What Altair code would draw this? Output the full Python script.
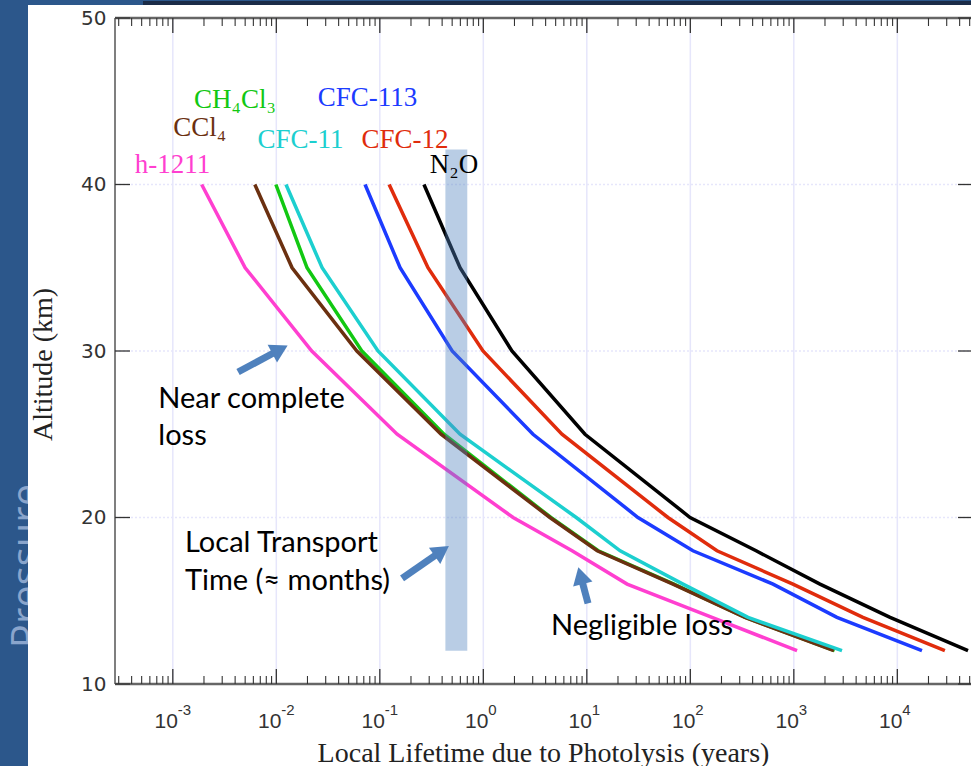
import altair as alt
import pandas as pd

# ---------------- data ----------------
altitude_km = [40, 35, 30, 25, 20, 18, 16, 14, 12]

# local photolysis lifetime (years) at each altitude
life_h1211 = [0.0019, 0.0050, 0.022, 0.147, 1.94, 7.2, 24.5, 162, 1075]
life_ch4cl3 = [0.0099, 0.0198, 0.067, 0.417, 4.5, 12.9, 69.5, 340, 2480]
life_ccl4 = [0.0062, 0.0142, 0.060, 0.39, 4.4, 12.6, 68, 337, 2440]
life_cfc11 = [0.0124, 0.0277, 0.096, 0.596, 7.9, 21, 85, 361, 2920]
life_cfc113 = [0.072, 0.157, 0.50, 3.02, 31.2, 106, 630, 2610, 17300]
life_cfc12 = [0.123, 0.292, 0.993, 5.75, 60.8, 181, 980, 4650, 28800]
life_n2o = [0.267, 0.596, 1.89, 9.6, 99.5, 432, 1790, 8510, 48200]

series_names = ["CH₄Cl₃", "CCl₄", "h-1211", "CFC-11", "CFC-113", "CFC-12", "N₂O"]
series_values = [life_ch4cl3, life_ccl4, life_h1211, life_cfc11, life_cfc113, life_cfc12, life_n2o]
series_colors = ["#12C812", "#6B3010", "#FF3FD0", "#1CCFCF", "#1C3BFF", "#E02C0C", "#000000"]

# series label positions (lifetime, altitude of text baseline)
label_x = [0.00399, 0.00182, 0.000993, 0.01714, 0.0760, 0.1752, 0.521]
label_y = [44.62, 42.89, 40.71, 42.19, 44.69, 42.19, 40.69]

# local transport time band
band_x = [0.43, 0.70]
band_y = [12, 42.1]

# annotations
note_text = ["Near complete", "loss", "Local Transport", "Time (≈ months)", "Negligible loss"]
note_x = [0.000724, 0.000724, 0.001312, 0.001312, 4.51]
note_y = [26.55, 24.35, 17.93, 15.62, 12.92]

# arrows: tail -> head
arrow_tail_x = [0.00427, 0.164, 10.27]
arrow_tail_y = [28.74, 16.35, 14.84]
arrow_head_x = [0.01085, 0.3967, 8.70]
arrow_head_y = [30.09, 17.99, 16.51]
arrow_angle = [62, 55.5, 345]

# axes
x_min, x_max = 2.763e-4, 5.15e4
decades = [1e-3, 1e-2, 1e-1, 1e0, 1e1, 1e2, 1e3, 1e4]
decade_base = ["10"] * 8
decade_exp = ["-3", "-2", "-1", "0", "1", "2", "3", "4"]
minor_ticks = [m * 10.0 ** e for e in range(-4, 5) for m in range(2, 10)
               if x_min < m * 10.0 ** e < x_max]
y_ticks = [10, 20, 30, 40, 50]
y_grid = [20, 30, 40]

# ---------------- layout ----------------
W, H = 856, 666
PAD_L, PAD_T = 115, 18
MAJ, MIN = 15, 8

xs = alt.Scale(type="log", domain=[x_min, x_max], nice=False)
ys = alt.Scale(domain=[10, 50], nice=False, zero=False)
one = pd.DataFrame({"k": [0]})

x_axis = alt.Axis(
    values=decades, labels=False, grid=False, ticks=False, domain=False,
    title="Local Lifetime due to Photolysis (years)",
    titleFont="Liberation Serif", titleFontSize=28, titleFontWeight="normal",
    titleColor="#222222", titleBaseline="alphabetic", titleY=77, zindex=1)
y_axis = alt.Axis(
    values=y_ticks, grid=False, ticks=False, domain=False,
    labelFont="DejaVu Sans", labelFontSize=20, labelColor="#333333",
    labelPadding=9, labelFlush=False,
    title="Altitude (km)", titleFont="Liberation Serif", titleFontSize=28,
    titleFontWeight="normal", titleColor="#222222", titleAngle=270,
    titleAlign="center", titleBaseline="middle", titleX=43 - PAD_L,
    titleY=364 - PAD_T, zindex=1)


def X(field):
    return alt.X(field, scale=xs, axis=x_axis)


def Y(field):
    return alt.Y(field, scale=ys, axis=y_axis)


pressure = alt.Chart(pd.DataFrame({"t": ["Pressure"]})).mark_text(
    angle=270, font="Open Sans", fontSize=40, color="#8AA5CC",
    align="center", baseline="alphabetic"
).encode(x=alt.value(40 - PAD_L), y=alt.value(566 - PAD_T), text="t:N")

white = alt.Chart(one).mark_rect(color="white").encode(
    x=alt.value(28 - PAD_L), x2=alt.value(W), y=alt.value(5 - PAD_T), y2=alt.value(766 - PAD_T))

top_strip = alt.Chart(one).mark_rect(color="#1B2C48").encode(
    x=alt.value(143 - PAD_L), x2=alt.value(W), y=alt.value(1 - PAD_T), y2=alt.value(5 - PAD_T))

grid_v = alt.Chart(pd.DataFrame({"gx": decades})).mark_rule(
    color="#E6E6FB", strokeWidth=1.5
).encode(x=X("gx:Q"), y=alt.value(0), y2=alt.value(H))

grid_h = alt.Chart(pd.DataFrame({"gy": y_grid})).mark_rule(
    color="#E6E6FB", strokeWidth=1.5, strokeDash=[2, 2]
).encode(y=Y("gy:Q"), x=alt.value(0), x2=alt.value(W))

line_layers = []
for name, vals, col in zip(series_names, series_values, series_colors):
    df = pd.DataFrame({"alt": altitude_km, "life": vals})
    line_layers.append(
        alt.Chart(df).mark_line(strokeWidth=3.5, color=col).encode(
            x=X("life:Q"), y=Y("alt:Q"), order="alt:Q"))

band = alt.Chart(pd.DataFrame({"x1": [band_x[0]], "x2": [band_x[1]],
                               "y1": [band_y[0]], "y2": [band_y[1]]})).mark_rect(
    color="#4F81BD", opacity=0.4
).encode(x=X("x1:Q"), x2="x2:Q", y=Y("y1:Q"), y2="y2:Q")

frame = alt.layer(
    alt.Chart(one).mark_rule(color="#555555", strokeWidth=1.5).encode(
        x=alt.value(0), y=alt.value(0), y2=alt.value(H)),
    alt.Chart(one).mark_rule(color="#666666", strokeWidth=2.5).encode(
        x=alt.value(0), x2=alt.value(W), y=alt.value(0)),
    alt.Chart(one).mark_rule(color="#666666", strokeWidth=2.5).encode(
        x=alt.value(0), x2=alt.value(W), y=alt.value(H)),
)

maj_df = pd.DataFrame({"tx": decades})
min_df = pd.DataFrame({"tx": minor_ticks})
yt_df = pd.DataFrame({"ty": y_ticks})
tick_col = "#333333"
ticks = alt.layer(
    alt.Chart(maj_df).mark_rule(color=tick_col, strokeWidth=1.3).encode(
        x=X("tx:Q"), y=alt.value(0), y2=alt.value(MAJ)),
    alt.Chart(maj_df).mark_rule(color=tick_col, strokeWidth=1.3).encode(
        x=X("tx:Q"), y=alt.value(H), y2=alt.value(H - MAJ)),
    alt.Chart(min_df).mark_rule(color=tick_col, strokeWidth=1.1).encode(
        x=X("tx:Q"), y=alt.value(0), y2=alt.value(MIN)),
    alt.Chart(min_df).mark_rule(color=tick_col, strokeWidth=1.1).encode(
        x=X("tx:Q"), y=alt.value(H), y2=alt.value(H - MIN)),
    alt.Chart(yt_df).mark_rule(color=tick_col, strokeWidth=1.3).encode(
        y=Y("ty:Q"), x=alt.value(0), x2=alt.value(MAJ)),
    alt.Chart(yt_df).mark_rule(color=tick_col, strokeWidth=1.3).encode(
        y=Y("ty:Q"), x=alt.value(W - 13), x2=alt.value(W)),
)

# x tick labels: "10" with a raised exponent
tl_df = pd.DataFrame({"tx": decades, "base": decade_base, "ex": decade_exp})
tick_labels = alt.layer(
    alt.Chart(tl_df).mark_text(font="Liberation Sans", fontSize=21, color="#333333",
                               align="right", baseline="alphabetic", dx=5).encode(
        x=X("tx:Q"), y=alt.value(H + 44), text="base:N"),
    alt.Chart(tl_df).mark_text(font="Liberation Sans", fontSize=15, color="#333333",
                               align="left", baseline="alphabetic", dx=5).encode(
        x=X("tx:Q"), y=alt.value(H + 31), text="ex:N"),
)

labels = alt.Chart(pd.DataFrame({"name": series_names, "lx": label_x, "ly": label_y})).mark_text(
    font="Liberation Serif", fontSize=27, align="center", baseline="alphabetic"
).encode(
    x=X("lx:Q"), y=Y("ly:Q"), text="name:N",
    color=alt.Color("name:N", scale=alt.Scale(domain=series_names, range=series_colors), legend=None))

notes = alt.Chart(pd.DataFrame({"t": note_text, "nx": note_x, "ny": note_y})).mark_text(
    font="Lato", fontSize=29, align="left", baseline="alphabetic", color="#000000"
).encode(x=X("nx:Q"), y=Y("ny:Q"), text="t:N")

arr_df = pd.DataFrame({"tx": arrow_tail_x, "ty": arrow_tail_y,
                       "hx": arrow_head_x, "hy": arrow_head_y, "ang": arrow_angle})
arrow_shaft = alt.Chart(arr_df).mark_rule(color="#4F81BD", strokeWidth=7, strokeCap="butt").encode(
    x=X("tx:Q"), x2="hx:Q", y=Y("ty:Q"), y2="hy:Q")
arrow_head = alt.Chart(arr_df).mark_point(
    shape="triangle-up", filled=True, size=400, color="#4F81BD", opacity=1
).encode(x=X("hx:Q"), y=Y("hy:Q"), angle=alt.Angle("ang:Q", scale=None))

chart = alt.layer(
    pressure, white, top_strip, grid_v, grid_h, *line_layers, band, frame, ticks,
    tick_labels, labels, notes, arrow_shaft, arrow_head
).properties(
    width=W, height=H,
    padding={"left": PAD_L, "top": PAD_T, "right": 0, "bottom": 766 - PAD_T - H},
    autosize="none", background="#2C578B"
).configure_view(stroke=None)

chart.save("out.html", embed_options={"renderer": "svg", "actions": False})
